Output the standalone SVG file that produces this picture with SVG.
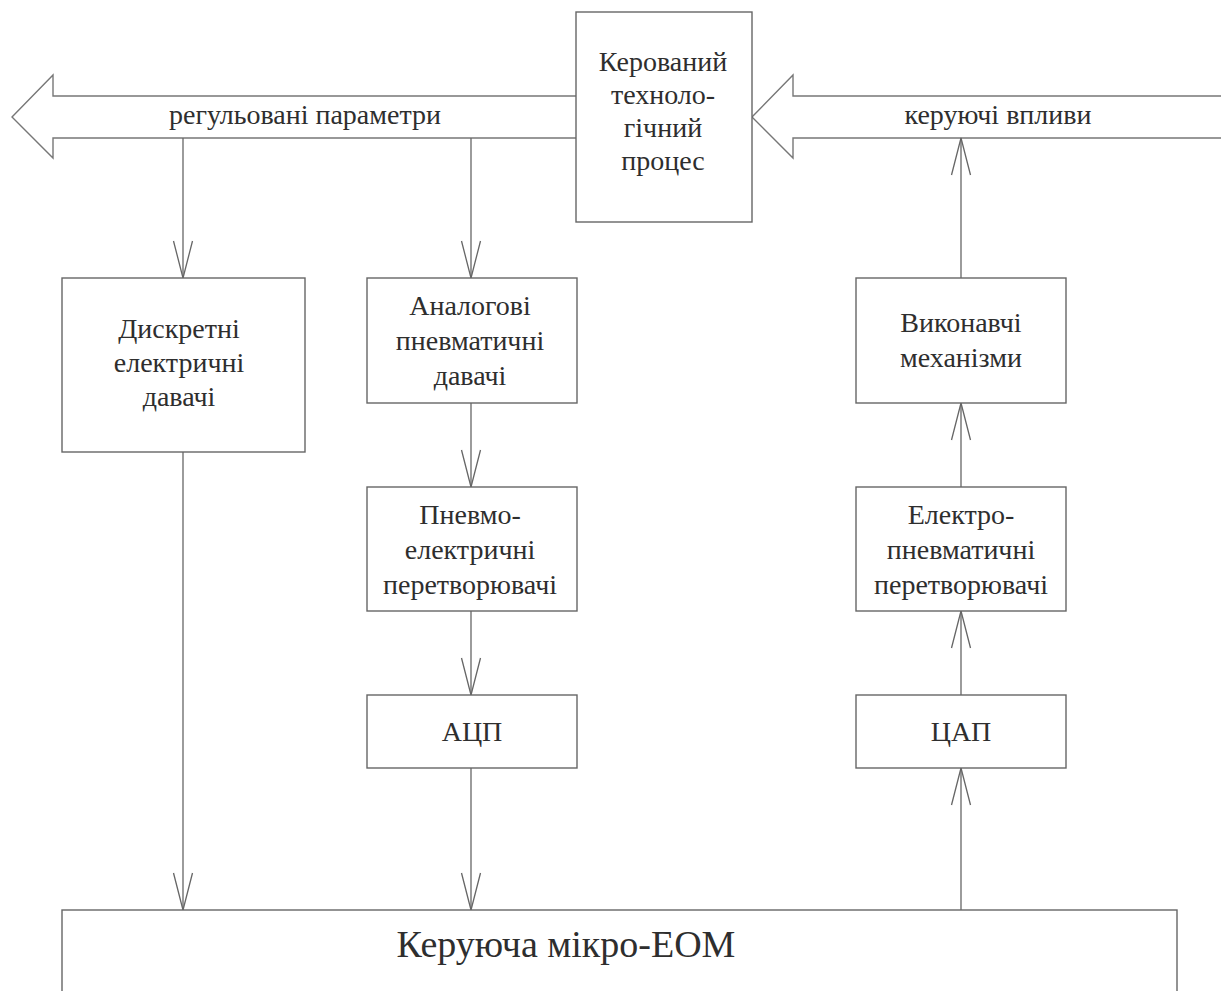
<svg xmlns="http://www.w3.org/2000/svg" width="1221" height="991" viewBox="0 0 1221 991">
  <style>
    .box { fill: #ffffff; stroke: #666666; stroke-width: 1.4; }
    .wide { fill: #ffffff; stroke: #777777; stroke-width: 1.4; }
    .wire { fill: none; stroke: #666666; stroke-width: 1.3; }
    text { font-family: 'Liberation Serif', 'DejaVu Serif', serif; font-size: 28px; fill: #2e2e2e; text-anchor: middle; }
    .big { font-size: 38px; }
  </style>
  <defs>
    <!-- open V arrowhead shared by all connectors -->
    <marker id="vee" markerUnits="userSpaceOnUse" markerWidth="42" markerHeight="22" refX="39" refY="11" orient="auto" overflow="visible">
      <path d="M2,1.5 L39,11 L2,20.5" fill="none" stroke="#666666" stroke-width="1.3"/>
    </marker>
  </defs>
  <rect width="1221" height="991" fill="#ffffff"/>

  <!-- broad flow arrows -->
  <g id="flow-out">
    <path class="wide" d="M576,96 H53 V75 L12,117 L53,158 V138 H576"/>
    <text x="305" y="124">регульовані параметри</text>
  </g>
  <g id="flow-in">
    <path class="wide" d="M1222,96 H793 V75 L752,117 L793,158 V138 H1222"/>
    <text x="998" y="124">керуючі впливи</text>
  </g>

  <!-- connectors -->
  <g id="connectors">
    <path class="wire" d="M183,138 V278" marker-end="url(#vee)"/>
    <path class="wire" d="M471,138 V278" marker-end="url(#vee)"/>
    <path class="wire" d="M183,452 V910" marker-end="url(#vee)"/>
    <path class="wire" d="M471,403 V487" marker-end="url(#vee)"/>
    <path class="wire" d="M471,611 V695" marker-end="url(#vee)"/>
    <path class="wire" d="M471,768 V910" marker-end="url(#vee)"/>
    <path class="wire" d="M961,910 V768" marker-end="url(#vee)"/>
    <path class="wire" d="M961,695 V611" marker-end="url(#vee)"/>
    <path class="wire" d="M961,487 V403" marker-end="url(#vee)"/>
    <path class="wire" d="M961,278 V138" marker-end="url(#vee)"/>
  </g>

  <g id="process">
    <rect class="box" x="576" y="12" width="176" height="210"/>
    <text x="663" y="71">Керований</text>
    <text x="663" y="104">техноло-</text>
    <text x="663" y="137">гічний</text>
    <text x="663" y="170">процес</text>
  </g>

  <g id="discrete-sensors">
    <rect class="box" x="62" y="278" width="243" height="174"/>
    <text x="179" y="338">Дискретні</text>
    <text x="179" y="372">електричні</text>
    <text x="179" y="406">давачі</text>
  </g>

  <g id="analog-sensors">
    <rect class="box" x="367" y="278" width="210" height="125"/>
    <text x="470" y="315">Аналогові</text>
    <text x="470" y="350">пневматичні</text>
    <text x="470" y="385">давачі</text>
  </g>

  <g id="pe-converters">
    <rect class="box" x="367" y="487" width="210" height="124"/>
    <text x="470" y="524">Пневмо-</text>
    <text x="470" y="559">електричні</text>
    <text x="470" y="594">перетворювачі</text>
  </g>

  <g id="adc">
    <rect class="box" x="367" y="695" width="210" height="73"/>
    <text x="472" y="741">АЦП</text>
  </g>

  <g id="actuators">
    <rect class="box" x="856" y="278" width="210" height="125"/>
    <text x="961" y="332">Виконавчі</text>
    <text x="961" y="367">механізми</text>
  </g>

  <g id="ep-converters">
    <rect class="box" x="856" y="487" width="210" height="124"/>
    <text x="961" y="524">Електро-</text>
    <text x="961" y="559">пневматичні</text>
    <text x="961" y="594">перетворювачі</text>
  </g>

  <g id="dac">
    <rect class="box" x="856" y="695" width="210" height="73"/>
    <text x="961" y="741">ЦАП</text>
  </g>

  <g id="computer">
    <rect class="box" x="62" y="910" width="1115" height="100"/>
    <text class="big" x="566" y="957">Керуюча мікро-ЕОМ</text>
  </g>
</svg>
